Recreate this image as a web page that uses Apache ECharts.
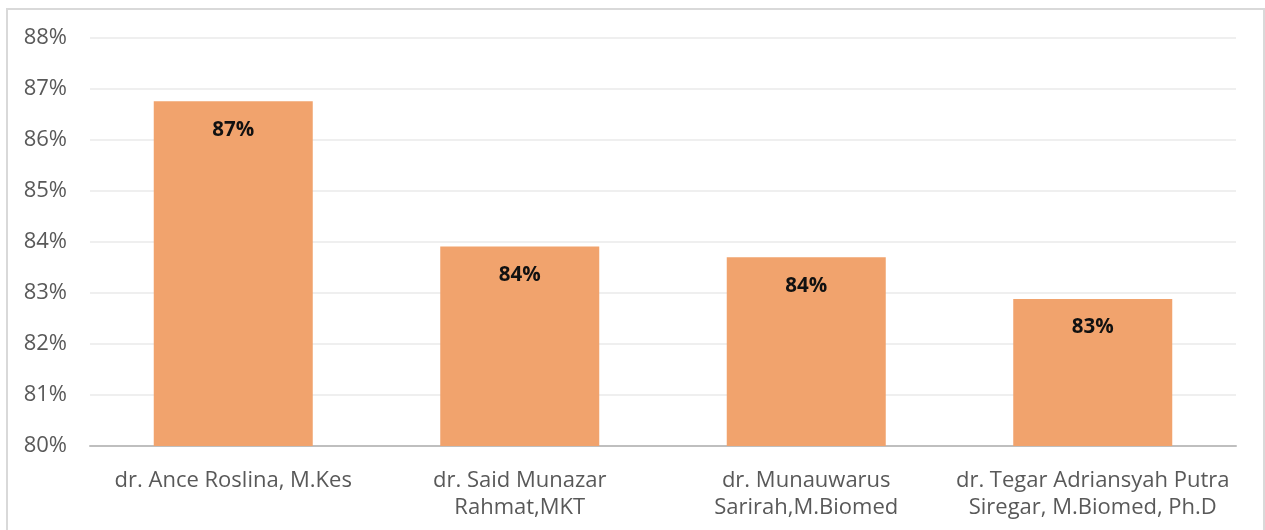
<!DOCTYPE html>
<html>
<head>
<meta charset="utf-8">
<script src="https://cdn.jsdelivr.net/npm/echarts@6/dist/echarts.min.js"></script>
<style>
  html, body { margin: 0; padding: 0; background: #fff; }
  #chart { width: 1265px; height: 530px; }
</style>
</head>
<body>
<div id="chart"></div>
<script>
// data
const categories = [
  'dr. Ance Roslina, M.Kes',
  'dr. Said Munazar\nRahmat,MKT',
  'dr. Munauwarus\nSarirah,M.Biomed',
  'dr. Tegar Adriansyah Putra\nSiregar, M.Biomed, Ph.D'
]
const scores = [86.76, 83.91, 83.70, 82.88]
const yTicks = { min: 80, max: 88, step: 1 }

const chart = echarts.init(document.getElementById('chart'))
const font = '"Open Sans", "Noto Sans", sans-serif'

chart.setOption({
  animation: false,
  textStyle: { fontFamily: font },
  graphic: [{
    type: 'rect',
    shape: { x: 7, y: 9, width: 1257, height: 540 },
    style: { fill: 'none', stroke: '#d9d9d9', lineWidth: 2 },
    silent: true
  }],
  grid: { left: 90, right: 29, top: 38, bottom: 84 },
  xAxis: {
    type: 'category',
    data: categories,
    axisTick: { show: false },
    axisLine: { lineStyle: { color: '#bfbfbf', width: 2 } },
    axisLabel: {
      color: '#595959',
      fontSize: 22,
      lineHeight: 27,
      margin: 21,
      interval: 0
    }
  },
  yAxis: {
    type: 'value',
    min: yTicks.min,
    max: yTicks.max,
    interval: yTicks.step,
    axisLine: { show: false },
    axisTick: { show: false },
    splitLine: { lineStyle: { color: '#efefef', width: 2 } },
    axisLabel: {
      color: '#595959',
      fontSize: 22,
      margin: 23,
      formatter: '{value}%'
    }
  },
  series: [{
    type: 'bar',
    data: scores,
    barWidth: '55.5%',
    itemStyle: { color: '#f1a36d' },
    label: {
      show: true,
      position: 'insideTop',
      distance: 18,
      color: '#111',
      fontWeight: 'bold',
      fontSize: 20.5,
      formatter: p => Math.round(p.value) + '%'
    }
  }]
})
</script>
</body>
</html>
